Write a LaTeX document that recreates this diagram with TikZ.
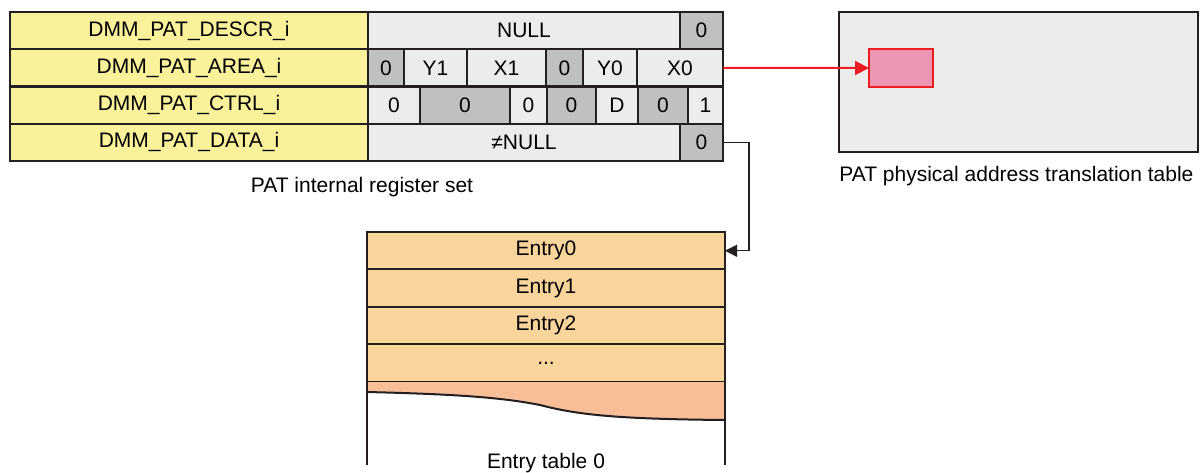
\documentclass[tikz,border=0pt]{standalone}
\usepackage{fontspec}
\setmainfont{Liberation Sans}
\usetikzlibrary{arrows.meta}
\definecolor{regyellow}{HTML}{FAF29B}
\definecolor{celllight}{HTML}{ECECEC}
\definecolor{cellgray}{HTML}{C0C0C0}
\definecolor{entryfill}{HTML}{F9D49B}
\definecolor{entryend}{HTML}{F7BE98}
\definecolor{patpink}{HTML}{ED96B4}
\definecolor{patred}{HTML}{ED1C24}
\definecolor{edge}{HTML}{231F20}
\tikzset{
  cell/.style={draw=edge, line width=1pt, inner sep=0pt, outer sep=0pt, minimum height=18.6pt, fill=#1},
  entry/.style={cell=entryfill, minimum width=179pt, minimum height=18.8pt},
}
\begin{document}
\begin{tikzpicture}[x=0.5pt, y=-0.5pt, every node/.style={font=\fontsize{10.5}{12}\selectfont}]
    \useasboundingbox (0,0) rectangle (1203,472);
    % register set
    \foreach \lab [count=\k] in {DESCR, AREA, CTRL, DATA}
        \node[cell=regyellow, minimum width=179pt] (name\k) at (189, {30.6+37.25*(\k-1)}) {DMM\_PAT\_\lab\_i};
    \foreach \a/\b/\lab/\col [count=\k] in {368/680/NULL/celllight, 680/723/0/cellgray}
        \node[cell=\col, minimum width={(\b-\a)*0.5pt}] (descr\k) at ({(\a+\b)/2}, 30.6) {\lab};
    \foreach \a/\b/\lab/\col [count=\k] in {368/404/0/cellgray, 404/467/Y1/celllight, 467/546/X1/celllight,
            546/583/0/cellgray, 583/637/Y0/celllight, 637/723/X0/celllight}
        \node[cell=\col, minimum width={(\b-\a)*0.5pt}] (area\k) at ({(\a+\b)/2}, 67.85) {\lab};
    \foreach \a/\b/\lab/\col [count=\k] in {368/420/0/celllight, 420/510/0/cellgray, 510/547/0/celllight,
            547/596/0/cellgray, 596/638/D/celllight, 638/688/0/cellgray, 688/723/1/celllight}
        \node[cell=\col, minimum width={(\b-\a)*0.5pt}] (ctrl\k) at ({(\a+\b)/2}, 105.1) {\lab};
    \foreach \a/\b/\lab/\col [count=\k] in {368/680/≠NULL/celllight, 680/723/0/cellgray}
        \node[cell=\col, minimum width={(\b-\a)*0.5pt}] (data\k) at ({(\a+\b)/2}, 142.35) {\lab};
    \node (reglabel) at (362,187) {PAT internal register set};
    % translation table
    \node[cell=celllight, minimum width=179.5pt, minimum height=70pt] (pattable) at (1018.5,82) {};
    \node[cell=patpink, draw=patred, minimum width=32pt, minimum height=19pt] (patentry) at (901,68) {};
    \node[anchor=west, inner sep=0pt] (patlabel) at (839,176) {PAT physical address translation table};
    \draw[patred, line width=1pt, -{Triangle[length=7pt, width=7pt]}] (area6.east) -- (patentry.west);
    % entry table
    \foreach \k in {1,2,3}
        \node[entry] (entry\k) at (546, {250.75+37.5*(\k-1)}) {Entry\the\numexpr\k-1\relax};
    \node[entry] (entry4) at (546, 363.25) {...};
    \fill[entryend] (entry4.south west) -- (entry4.south east) -- (725,420) .. controls (610,419) and (575,414) .. (540,405)
        .. controls (500,397) and (450,394) .. (367,392) -- cycle;
    \draw[edge, line width=1pt] (725,420) .. controls (610,419) and (575,414) .. (540,405)
        .. controls (500,397) and (450,394) .. (367,392);
    \draw[edge, line width=1pt] (entry4.south west) -- (367,465) (entry4.south east) -- (725,465);
    \node (tablelabel) at (546,463) {Entry table 0};
    \draw[edge, line width=0.6pt, -{Triangle[length=6pt, width=6pt]}] (data2.east) -- ++(26,0) |- (entry1.east);
\end{tikzpicture}
\end{document}
